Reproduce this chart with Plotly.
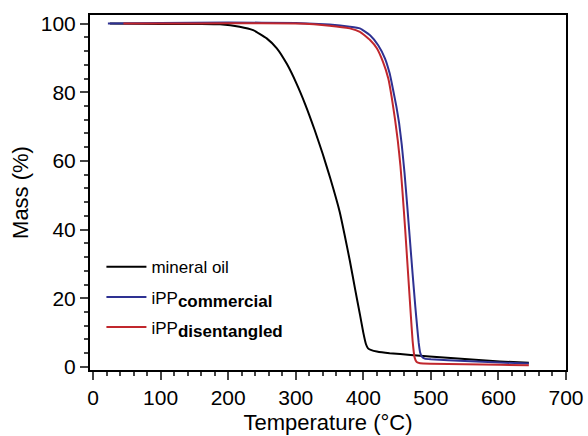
import plotly.graph_objects as go

# ---- data ----
oil_T = [25, 100, 160, 188, 217, 237, 257, 272, 287, 301, 314, 328, 340, 351, 365, 372, 380, 388, 395, 400, 404, 407, 412, 420, 439, 470, 498, 550, 602, 645]
oil_m = [100, 99.9, 99.9, 99.8, 99.1, 98.1, 95.7, 92.8, 88.2, 82.6, 76.5, 69.0, 62.0, 55.0, 45.2, 38.8, 31.0, 22.5, 15.3, 10.0, 6.6, 5.4, 4.9, 4.5, 4.0, 3.5, 3.0, 2.3, 1.6, 1.2]

com_T = [22, 100, 200, 300, 350, 380, 395, 410, 422, 432, 439, 444, 449, 453, 457, 461, 465, 469, 473, 477, 480, 482, 484, 487, 491, 500, 550, 602, 645]
com_m = [100, 100.2, 100.3, 100.2, 99.7, 99.1, 98.6, 96.6, 93.7, 89.9, 85.5, 80.8, 75.8, 71.0, 64.5, 56.5, 47.0, 37.0, 27.0, 17.5, 11.0, 7.0, 4.3, 2.9, 2.4, 2.2, 1.7, 1.25, 1.0]

dis_T = [45, 100, 200, 300, 350, 380, 395, 410, 420, 429, 437, 442, 447, 451, 455, 458, 462, 466, 470, 473, 476, 479, 484, 500, 550, 602, 645]
dis_m = [100, 100, 100.1, 100, 99.4, 98.6, 97.6, 95.2, 92.8, 88.9, 84.0, 78.6, 72.0, 66.0, 58.5, 51.0, 40.0, 28.0, 16.0, 7.5, 2.7, 1.4, 1.05, 0.9, 0.75, 0.6, 0.5]

SUB = "<sub><span style='font-size:17px'><b>%s</b></span></sub>"
names = ["mineral oil", "iPP" + SUB % "commercial", "iPP" + SUB % "disentangled"]
colors = ["#000000", "#2E3192", "#C1272D"]

x_range = [-4.5, 700]
y_range = [-0.9, 102.5]

fig = go.Figure()
for i, (T, m, n, c) in enumerate(zip([oil_T, com_T, dis_T], [oil_m, com_m, dis_m], names, colors)):
    fig.add_trace(go.Scatter(x=T, y=m, mode="lines", name=n, legendgroup=f"g{i}",
                             line=dict(color=c, width=2, shape="spline", smoothing=0.4)))

font = "Liberation Sans, Arial, sans-serif"
fig.update_layout(
    width=588, height=436,
    margin=dict(l=90, r=22, t=15, b=66),
    paper_bgcolor="white", plot_bgcolor="white",
    font=dict(family=font, size=21, color="black"),
    showlegend=True,
    legend=dict(x=0.024, y=0.34, xanchor="left", yanchor="top",
                bgcolor="rgba(0,0,0,0)", font=dict(size=17, family=font),
                tracegroupgap=5, itemwidth=40),
    xaxis=dict(range=x_range, dtick=100, tick0=0, ticks="outside", ticklen=8,
               tickwidth=1.5, showline=True, linewidth=2, linecolor="black",
               mirror=True, showgrid=False, zeroline=False, automargin=False,
               tickfont=dict(size=21),
               minor=dict(dtick=20, ticks="outside", ticklen=4, tickwidth=1.5, showgrid=False),
               title=dict(text="Temperature (°C)", standoff=6, font=dict(size=22))),
    yaxis=dict(range=y_range, dtick=20, tick0=0, ticks="outside", ticklen=8,
               tickwidth=1.5, showline=True, linewidth=2, linecolor="black",
               mirror=True, showgrid=False, zeroline=False, automargin=False,
               tickfont=dict(size=21),
               minor=dict(dtick=4, ticks="outside", ticklen=4, tickwidth=1.5, showgrid=False),
               title=dict(text="Mass (%)", standoff=6, font=dict(size=22))),
    yaxis2=dict(range=y_range, overlaying="y", side="right", dtick=4, tick0=0,
                ticks="inside", ticklen=4, tickwidth=1.5, showticklabels=False,
                showgrid=False, zeroline=False, showline=False, automargin=False),
)

fig.write_html("out.html", config={"displayModeBar": False},
               post_script="document.body.style.margin='0px';")
